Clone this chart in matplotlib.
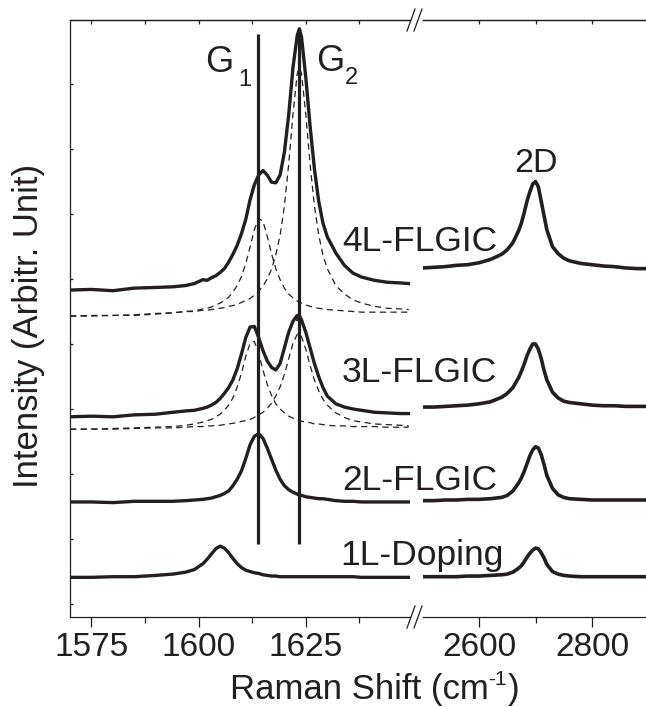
import matplotlib
matplotlib.use('Agg')
import matplotlib.pyplot as plt
from matplotlib.lines import Line2D

plt.rcParams['font.family'] = ['Liberation Sans', 'DejaVu Sans']

INK = '#231f20'

# ---------------- data ----------------
# G band region (cm^-1)
X_G = [1570, 1575, 1580, 1585, 1590, 1594, 1597, 1599,
       1601, 1602, 1603, 1604, 1605, 1606, 1607, 1608, 1609, 1610, 1611, 1612,
       1613, 1614, 1615, 1616, 1617, 1618, 1619, 1620, 1621, 1622, 1623,
       1623.5,
       1624, 1625, 1626, 1627, 1628, 1629, 1630,
       1632, 1634, 1636, 1638, 1641, 1644, 1647, 1649]

G_4L = [4.83, 4.84, 4.82, 4.86, 4.87, 4.88, 4.90, 4.93,
        4.99, 4.98, 5.02, 5.05, 5.10, 5.16, 5.26, 5.38, 5.52, 5.70, 5.92, 6.22,
        6.45, 6.60, 6.67, 6.60, 6.49, 6.48, 6.60, 6.95, 7.52, 8.25, 8.75,
        8.85,
        8.72, 8.10, 7.35, 6.70, 6.20, 5.86, 5.65,
        5.40, 5.21, 5.09, 5.03, 4.98, 4.95, 4.94, 4.93]

G_4L_FIT1 = [4.43, 4.43, 4.44, 4.44, 4.46, 4.48, 4.50, 4.51,
             4.54, 4.55, 4.57, 4.60, 4.63, 4.67, 4.72, 4.80, 4.90, 5.04, 5.24, 5.49,
             5.76, 5.93, 5.89, 5.66, 5.39, 5.16, 4.99, 4.86, 4.77, 4.71, 4.66,
             4.64,
             4.63, 4.60, 4.58, 4.56, 4.55, 4.54, 4.53,
             4.52, 4.51, 4.50, 4.49, 4.49, 4.49, 4.49, 4.49]

G_4L_FIT2 = [4.43, 4.44, 4.44, 4.45, 4.47, 4.48, 4.50, 4.50,
             4.52, 4.52, 4.53, 4.54, 4.55, 4.56, 4.58, 4.59, 4.61, 4.64, 4.67, 4.70,
             4.75, 4.81, 4.89, 5.00, 5.15, 5.37, 5.67, 6.12, 6.76, 7.53, 8.16,
             8.25,
             8.16, 7.53, 6.76, 6.13, 5.68, 5.37, 5.16,
             4.90, 4.77, 4.68, 4.63, 4.58, 4.55, 4.54, 4.53]

G_3L = [2.88, 2.89, 2.88, 2.91, 2.92, 2.95, 2.97, 2.98,
        3.01, 3.03, 3.06, 3.10, 3.16, 3.24, 3.33, 3.45, 3.62, 3.85, 4.10, 4.26,
        4.27, 4.10, 3.90, 3.74, 3.64, 3.60, 3.70, 3.94, 4.18, 4.35, 4.44,
        4.43,
        4.37, 4.18, 3.94, 3.70, 3.50, 3.33, 3.20,
        3.08, 3.03, 3.00, 2.98, 2.95, 2.94, 2.93, 2.93]

G_3L_FIT1 = [2.69, 2.69, 2.70, 2.71, 2.72, 2.73, 2.75, 2.77,
             2.80, 2.82, 2.84, 2.88, 2.92, 2.98, 3.06, 3.17, 3.34, 3.55, 3.81, 4.01,
             4.04, 3.86, 3.60, 3.38, 3.21, 3.08, 3.00, 2.94, 2.89, 2.86, 2.83,
             2.82,
             2.81, 2.80, 2.79, 2.77, 2.77, 2.76, 2.75,
             2.74, 2.74, 2.73, 2.73, 2.73, 2.72, 2.72, 2.72]

G_3L_FIT2 = [2.69, 2.69, 2.69, 2.70, 2.71, 2.71, 2.72, 2.73,
             2.73, 2.74, 2.74, 2.75, 2.75, 2.76, 2.77, 2.78, 2.79, 2.81, 2.82, 2.84,
             2.87, 2.91, 2.95, 3.01, 3.09, 3.20, 3.34, 3.53, 3.77, 4.01, 4.15,
             4.16,
             4.11, 3.92, 3.67, 3.45, 3.28, 3.15, 3.06,
             2.94, 2.87, 2.82, 2.80, 2.77, 2.76, 2.75, 2.74]

G_2L = [1.57, 1.57, 1.56, 1.58, 1.58, 1.58, 1.59, 1.60,
        1.61, 1.62, 1.63, 1.65, 1.67, 1.70, 1.74, 1.82, 1.92, 2.05, 2.24, 2.45,
        2.58, 2.62, 2.55, 2.40, 2.23, 2.06, 1.92, 1.82, 1.76, 1.72, 1.69,
        1.68,
        1.67, 1.65, 1.64, 1.63, 1.62, 1.62, 1.61,
        1.59, 1.58, 1.58, 1.57, 1.57, 1.57, 1.57, 1.57]

G_1L = [0.41, 0.41, 0.42, 0.42, 0.44, 0.46, 0.49, 0.53,
        0.62, 0.69, 0.77, 0.85, 0.89, 0.86, 0.79, 0.70, 0.62, 0.56, 0.52, 0.50,
        0.48, 0.47, 0.45, 0.44, 0.43, 0.43, 0.42, 0.42, 0.42, 0.42, 0.42,
        0.42,
        0.42, 0.42, 0.42, 0.42, 0.42, 0.42, 0.42,
        0.42, 0.42, 0.42, 0.41, 0.41, 0.41, 0.41, 0.41]

# 2D band region (cm^-1)
X_2D = [2500, 2520, 2540, 2560, 2580, 2600, 2620, 2640, 2650, 2660, 2670, 2675,
        2680, 2685, 2690, 2695, 2700, 2705, 2710, 2715, 2720, 2730, 2740, 2750,
        2760, 2780, 2800, 2820, 2840, 2860, 2880, 2900]

D_4L = [5.17, 5.18, 5.19, 5.21, 5.22, 5.25, 5.30, 5.38, 5.45, 5.56, 5.74, 5.86,
        6.02, 6.20, 6.34, 6.46, 6.50, 6.42, 6.20, 5.98, 5.76, 5.50, 5.39, 5.32,
        5.28, 5.24, 5.22, 5.20, 5.19, 5.17, 5.16, 5.16]
D_3L = [3.03, 3.03, 3.04, 3.05, 3.06, 3.08, 3.11, 3.18, 3.24, 3.33, 3.48, 3.58,
        3.69, 3.82, 3.92, 4.00, 4.00, 3.92, 3.78, 3.60, 3.45, 3.26, 3.17, 3.12,
        3.10, 3.08, 3.06, 3.05, 3.05, 3.04, 3.04, 3.04]
D_2L = [1.59, 1.59, 1.60, 1.60, 1.61, 1.61, 1.62, 1.64, 1.67, 1.74, 1.86, 1.94,
        2.04, 2.16, 2.28, 2.37, 2.42, 2.40, 2.30, 2.15, 1.98, 1.78, 1.68, 1.64,
        1.62, 1.61, 1.60, 1.60, 1.60, 1.60, 1.60, 1.60]
D_1L = [0.42, 0.42, 0.42, 0.42, 0.43, 0.43, 0.44, 0.45, 0.46, 0.49, 0.55, 0.59,
        0.65, 0.72, 0.78, 0.83, 0.86, 0.85, 0.79, 0.71, 0.61, 0.50, 0.46, 0.44,
        0.43, 0.42, 0.42, 0.42, 0.42, 0.42, 0.42, 0.42]

SAMPLE_LABELS = ['4L-FLGIC', '3L-FLGIC', '2L-FLGIC', '1L-Doping']
G_LINE_POS = [1613.9, 1623.4]       # G1, G2 guide lines
G_LINE_SPAN = [0.92, 8.77]
G_MARK = (1623.4, 4.42)

XTICKS_G = [1575, 1600, 1625]
XMINOR_G = [1587.5, 1612.5, 1637.5]
XTICKS_2D = [2600, 2800]
XMINOR_2D = [2700]
YTICKS = [0, 1, 2, 3, 4, 5, 6, 7, 8]

# ---------------- layout ----------------
W, H = 646, 707
fig = plt.figure(figsize=(W / 100, H / 100), dpi=100)


def fx(px):
    return px / W


def fy(py):
    return 1 - py / H


TOP, BOT = 20, 617
axL = fig.add_axes([fx(70), fy(BOT), fx(410) - fx(70), fy(TOP) - fy(BOT)])
axR = fig.add_axes([fx(422.5), fy(BOT), fx(648.5) - fx(422.5), fy(TOP) - fy(BOT)])

for ax in (axL, axR):
    ax.set_ylim(-0.2, 8.985)
    ax.patch.set_alpha(0)
    for s in ax.spines.values():
        s.set_linewidth(0.9)
        s.set_color(INK)

axL.set_xlim(1570, 1649.3)
axR.set_xlim(2500, 2900)
axL.spines['right'].set_visible(False)
axR.spines['right'].set_visible(False)
axR.spines['left'].set_visible(False)

# fitted components (dashed)
fit_kw = dict(color=INK, lw=0.9, ls=(0, (5, 3.5)))
for comp in (G_4L_FIT1, G_4L_FIT2, G_3L_FIT1, G_3L_FIT2):
    axL.plot(X_G, comp, **fit_kw)

# spectra
for ys in (G_4L, G_3L, G_2L, G_1L):
    axL.plot(X_G, ys, color=INK, lw=2.4, solid_joinstyle='round')
for ys in (D_4L, D_3L, D_2L, D_1L):
    axR.plot(X_2D, ys, color=INK, lw=2.6, solid_joinstyle='round')

# G1 / G2 guide lines
axL.vlines(G_LINE_POS, G_LINE_SPAN[0], G_LINE_SPAN[1], color=INK, lw=2.3)
axL.plot([G_MARK[0]], [G_MARK[1]], marker='^', ms=4, color=INK)

# ticks
axL.set_xticks(XTICKS_G)
axL.set_xticks(XMINOR_G, minor=True)
axR.set_xticks(XTICKS_2D)
axR.set_xticks(XMINOR_2D, minor=True)
for ax in (axL, axR):
    ax.tick_params(axis='x', which='major', direction='out', length=7, width=0.9,
                   labelsize=24, pad=4, colors=INK)
    ax.tick_params(axis='x', which='minor', direction='out', length=4.5, width=0.9,
                   colors=INK)
axL.set_yticks(YTICKS)
axL.tick_params(axis='y', which='major', direction='in', length=2.5, width=0.9,
                labelleft=False, colors=INK)
axR.tick_params(axis='y', which='both', left=False, labelleft=False)

# top ticks (inward)
for ax, maj, mnr in ((axL, XTICKS_G, XMINOR_G), (axR, XTICKS_2D, XMINOR_2D)):
    sec = ax.secondary_xaxis('top')
    sec.set_xticks(maj)
    sec.set_xticks(mnr, minor=True)
    sec.tick_params(axis='x', which='both', direction='in', length=3, width=0.9,
                    labeltop=False, colors=INK)
    sec.spines['top'].set_linewidth(0.9)
    sec.spines['top'].set_color(INK)

# break marks
for y0 in (TOP, BOT):
    for xa in (407, 414):
        fig.add_artist(Line2D([fx(xa), fx(xa + 8)], [fy(y0 + 11), fy(y0 - 11)],
                              transform=fig.transFigure, color=INK, lw=0.9))

# texts
lab_kw = dict(fontsize=25.5, color=INK, ha='left', va='baseline')
fig.text(fx(342), fy(251), SAMPLE_LABELS[0], **lab_kw)
fig.text(fx(342), fy(382), SAMPLE_LABELS[1], **lab_kw)
fig.text(fx(342), fy(490), SAMPLE_LABELS[2], **lab_kw)
fig.text(fx(340), fy(565), SAMPLE_LABELS[3], **lab_kw)

fig.text(fx(536), fy(172), '2D', fontsize=24.5, color=INK, ha='center', va='baseline')

fig.text(fx(205), fy(72), 'G', fontsize=26, color=INK, ha='left', va='baseline')
fig.text(fx(238), fy(86), '1', fontsize=17, color=INK, ha='left', va='baseline')
fig.text(fx(316), fy(71), 'G', fontsize=26, color=INK, ha='left', va='baseline')
fig.text(fx(345), fy(84), '2', fontsize=17, color=INK, ha='left', va='baseline')

# x-axis title with a plain-hyphen superscript, assembled from pieces
renderer = fig.canvas.get_renderer()
parts = [('Raman Shift (cm', 25, 0), ('-1', 15, 14), (')', 25, 0)]
widths = []
for txt, fs, _ in parts:
    t = fig.text(0, 0, txt, fontsize=fs)
    widths.append(t.get_window_extent(renderer).width)
    t.remove()
x_cur = 375 - sum(widths) / 2 - 1
for (txt, fs, rise), w in zip(parts, widths):
    fig.text(fx(x_cur), fy(699 - rise), txt, fontsize=fs, color=INK,
             ha='left', va='baseline')
    x_cur += w + (1 if txt == '-1' else 0)

fig.text(fx(29), fy(326), 'Intensity (Arbitr. Unit)', fontsize=25, color=INK,
         rotation=90, ha='center', va='center')

fig.savefig('out.png', dpi=100)
